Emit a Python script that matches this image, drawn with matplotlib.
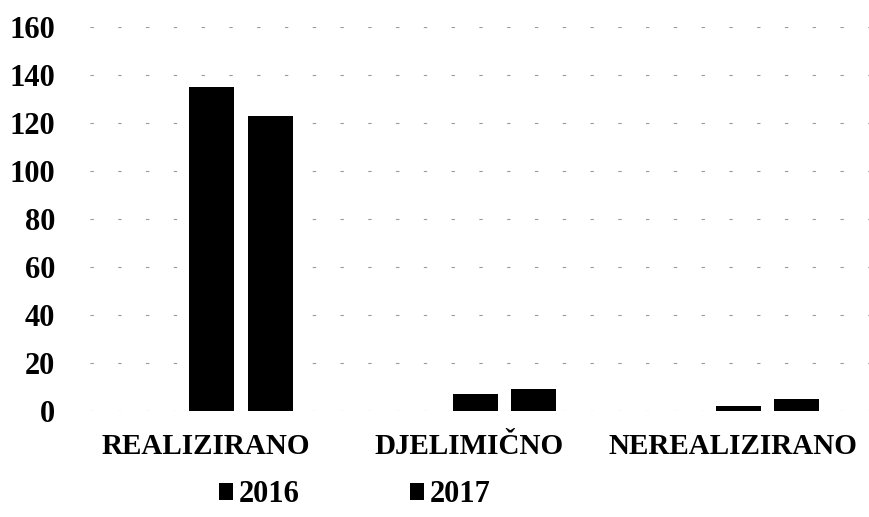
import matplotlib

matplotlib.use("Agg")
import matplotlib.pyplot as plt
import matplotlib.transforms as mtransforms
import numpy as np

categories = ["REALIZIRANO", "DJELIMIČNO", "NEREALIZIRANO"]
series_names = ["2016", "2017"]
values_2016 = [135, 7, 2]
values_2017 = [123, 9, 5]
y_ticks = [0, 20, 40, 60, 80, 100, 120, 140, 160]

plt.rcParams["font.family"] = ["Liberation Serif", "DejaVu Serif"]
plt.rcParams["font.weight"] = "bold"

fig = plt.figure(figsize=(8.69, 5.17), dpi=100)
ax = fig.add_axes([90 / 869, 1 - 411 / 517, 779 / 869, 384 / 517])

x = np.arange(len(categories))
width = 0.171
off = 0.111
ax.bar(x - off, values_2016, width, color="black", label=series_names[0], zorder=3)
ax.bar(x + off, values_2017, width, color="black", label=series_names[1], zorder=3)

ax.set_xlim(-0.573, 2.385)
ax.set_ylim(0, 160)
ax.set_yticks(y_ticks)
ax.set_xticks(x)
ax.set_xticklabels(categories, fontsize=21, fontweight="bold")
ax.tick_params(axis="y", labelsize=22, length=0, pad=25)
ax.tick_params(axis="x", length=0, pad=16)
for lab in ax.get_yticklabels():
    lab.set_fontweight("bold")

# category labels sit a bit left of the bar groups in the original
shift = mtransforms.ScaledTranslation(-0.35, 0, fig.dpi_scale_trans)
for lab in ax.get_xticklabels():
    lab.set_transform(lab.get_transform() + shift)

ax.grid(axis="y", color="#999999", linewidth=0.8, linestyle=(0, (3, 22)), zorder=0)
for s in ax.spines.values():
    s.set_visible(False)

fig.legend(
    loc="center",
    bbox_to_anchor=(355 / 869, 1 - 495 / 517),
    ncol=2,
    frameon=False,
    handlelength=0.45,
    handleheight=0.45,
    handletextpad=0.2,
    columnspacing=3.6,
    prop={"weight": "bold", "size": 22},
)

fig.savefig("out.png", dpi=100)
